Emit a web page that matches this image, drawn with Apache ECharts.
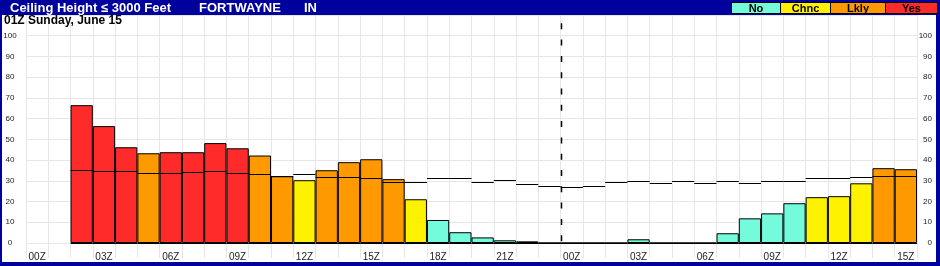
<!DOCTYPE html>
<html>
<head>
<meta charset="utf-8">
<script src="https://cdn.jsdelivr.net/npm/echarts@6/dist/echarts.min.js"></script>
<style>
html,body{margin:0;padding:0;background:#fff;}
#chart{width:940px;height:266px;}
</style>
</head>
<body>
<div id="chart"></div>
<script>
// ---- data ----
const categories = ['00Z','01Z','02Z','03Z','04Z','05Z','06Z','07Z','08Z','09Z','10Z','11Z',
  '12Z','13Z','14Z','15Z','16Z','17Z','18Z','19Z','20Z','21Z','22Z','23Z',
  '00Z','01Z','02Z','03Z','04Z','05Z','06Z','07Z','08Z','09Z','10Z','11Z','12Z','13Z','14Z','15Z'];
const probability = [null,null,66.5,56.4,46.2,43.3,43.8,43.8,48.2,45.7,42.2,32.2,
  30.3,35.1,39.0,40.4,30.8,21.1,11.1,5.2,2.7,1.3,0.8,0,
  0,0,0,1.8,0,0,0,4.7,11.9,14.3,19.2,22.1,22.6,28.8,36.1,35.6];
const level = [null,null,'Yes','Yes','Yes','Lkly','Yes','Yes','Yes','Yes','Lkly','Lkly',
  'Chnc','Lkly','Lkly','Lkly','Lkly','Chnc','No','No','No','No','No','No',
  'No','No','No','No','No','No','No','No','No','No','No','Chnc','Chnc','Chnc','Lkly','Lkly'];
const normal = [null,null,35.1,34.6,34.6,33.7,33.7,34.2,34.8,33.7,33.2,32.2,
  33.2,31.7,31.7,31.3,29.6,29.3,31.3,31.3,29.3,30.3,28.5,27.4,
  26.9,27.4,29.3,29.8,28.8,29.8,28.8,29.8,28.8,29.8,29.8,31.3,31.3,31.7,32.2,32.2];
const dayBreaks = [24];
const legendNames = ['No','Chnc','Lkly','Yes'];
const yTicks = [0,10,20,30,40,50,60,70,80,90,100];

// ---- styles ----
const colors = {No:'#74FBDC', Chnc:'#FFF200', Lkly:'#FF9900', Yes:'#FF2A2A'};
const frameBlue = '#00009C';

const barData = probability.map((v,i)=> v==null ? null : ({value:v, itemStyle:{color:colors[level[i]]}}));
const normalData = normal.map((v,i)=>[i,v]).filter(d=>d[1]!=null);
const baseData = probability.map((v,i)=>[i,0]).filter((d,i)=>probability[i]!=null);

function segItem(params, api){
  const c = api.coord([api.value(0), api.value(1)]);
  const w = api.size([1,0])[0];
  const y = Math.round(c[1]) + 0.5;
  return {type:'line', shape:{x1:c[0]-w/2, y1:y, x2:c[0]+w/2, y2:y},
    style:{stroke:'#000', lineWidth:1}};
}
function dashItem(params, api){
  const idx = api.value(0);
  const b = api.coord([idx, 0]);
  const t = api.coord([idx, 110]);
  const w = api.size([1,0])[0];
  const x = Math.round(b[0]-w/2) + 0.5;
  return {type:'line', shape:{x1:x, y1:t[1], x2:x, y2:b[1]},
    style:{stroke:'#000', lineWidth:1.5, lineDash:[6,10.3], lineDashOffset:8}};
}

const legendX = [731,780,830,885,937];
const graphics = [
  {type:'rect', shape:{x:0,y:0,width:940,height:15}, style:{fill:frameBlue}, z:100},
  {type:'rect', shape:{x:0,y:0,width:2,height:266}, style:{fill:frameBlue}, z:100},
  {type:'rect', shape:{x:936,y:0,width:4,height:266}, style:{fill:frameBlue}, z:100},
  {type:'rect', shape:{x:0,y:262,width:940,height:4}, style:{fill:frameBlue}, z:100},
  {type:'text', x:10, y:8, style:{text:'Ceiling Height ≤ 3000 Feet', fill:'#fff', font:'bold 13px "Liberation Sans", Arial, sans-serif', verticalAlign:'middle'}, z:101},
  {type:'text', x:199, y:8, style:{text:'FORTWAYNE', fill:'#fff', font:'bold 13px "Liberation Sans", Arial, sans-serif', verticalAlign:'middle'}, z:101},
  {type:'text', x:304, y:8, style:{text:'IN', fill:'#fff', font:'bold 13px "Liberation Sans", Arial, sans-serif', verticalAlign:'middle'}, z:101},
  {type:'text', x:4, y:21, style:{text:'01Z Sunday, June 15', fill:'#000', font:'bold 12px "Liberation Sans", Arial, sans-serif', verticalAlign:'middle'}, z:101}
];
legendNames.forEach((n,i)=>{
  const x0 = legendX[i], x1 = legendX[i+1];
  graphics.push({type:'rect', shape:{x:x0+0.5,y:2.5,width:x1-x0,height:11}, style:{fill:colors[n], stroke:'#000', lineWidth:1}, z:102});
  graphics.push({type:'text', x:(x0+x1)/2+0.5, y:8.5, style:{text:n, fill:'#000', font:'bold 11px "Liberation Sans", Arial, sans-serif', align:'center', verticalAlign:'middle'}, z:103});
});

const chart = echarts.init(document.getElementById('chart'), null, {renderer:'canvas'});
const yLabel = v => (yTicks.indexOf(v) >= 0 ? String(v) : '');
chart.setOption({
  animation:false,
  grid:{left:26, right:23, top:15, bottom:23},
  xAxis:{
    type:'category', data:categories, boundaryGap:true,
    axisLine:{show:false},
    axisTick:{show:true, interval:0, length:15, lineStyle:{color:'#e6e6e6'}},
    axisLabel:{interval:2, margin:9, fontSize:10, color:'#222', fontFamily:'"Liberation Sans", Arial, sans-serif'},
    splitLine:{show:true, interval:0, lineStyle:{color:'#e6e6e6', width:1}}
  },
  yAxis:[
    {type:'value', min:0, max:110, interval:10, position:'left',
     axisLine:{show:false}, axisTick:{show:false},
     axisLabel:{formatter:yLabel, align:'center', margin:16, fontSize:8, color:'#222', fontFamily:'"Liberation Sans", Arial, sans-serif'},
     splitLine:{show:true, lineStyle:{color:'#e6e6e6', width:1}}},
    {type:'value', min:0, max:110, interval:10, position:'right',
     axisLine:{show:false}, axisTick:{show:false},
     axisLabel:{formatter:yLabel, align:'right', margin:15, fontSize:8, color:'#222', fontFamily:'"Liberation Sans", Arial, sans-serif'},
     splitLine:{show:false}}
  ],
  series:[
    {type:'bar', data:barData, barWidth:'100%', barGap:'0%', barCategoryGap:'0%',
     itemStyle:{borderColor:'#000', borderWidth:1}, z:2},
    {type:'custom', renderItem:segItem, data:baseData, encode:{x:0,y:1}, z:3},
    {type:'custom', renderItem:segItem, data:normalData, encode:{x:0,y:1}, z:4},
    {type:'custom', renderItem:dashItem, data:dayBreaks.map(d=>[d,0]), encode:{x:0,y:1}, z:5}
  ],
  graphic:graphics
});
</script>
</body>
</html>
